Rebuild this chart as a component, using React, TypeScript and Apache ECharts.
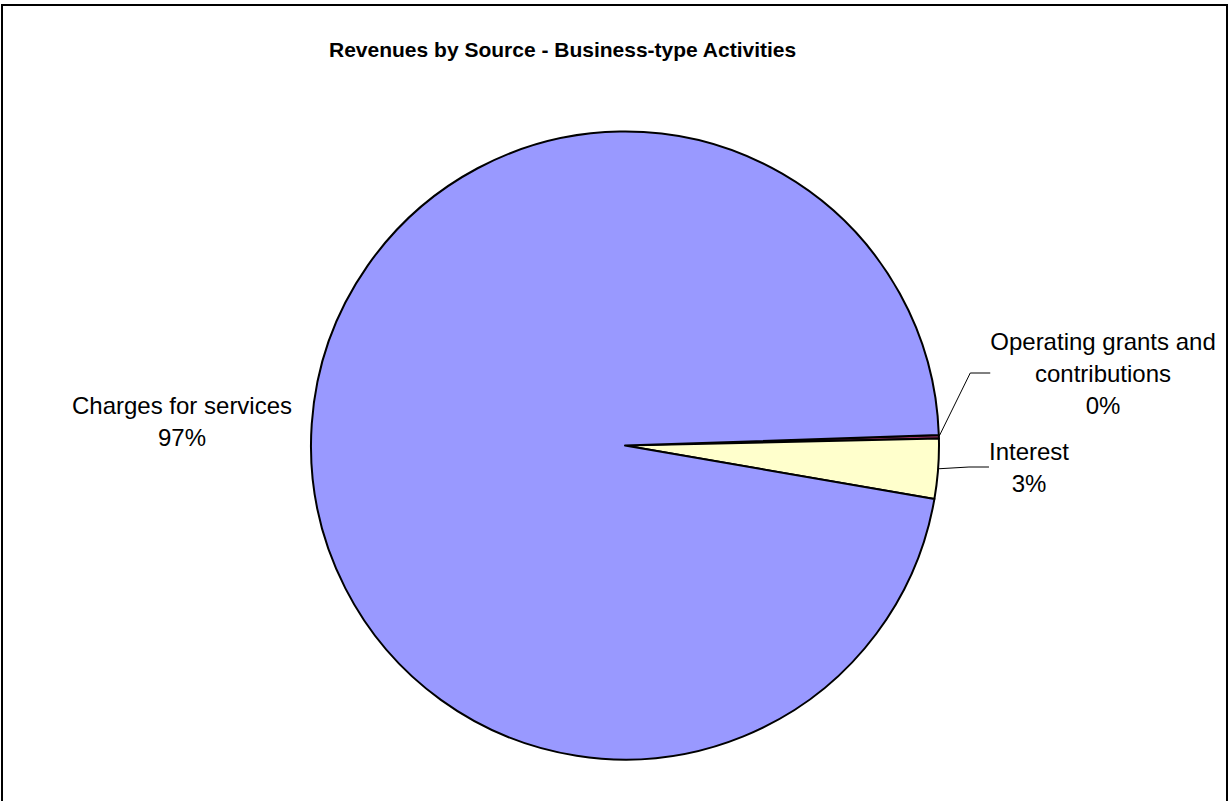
import React, { useEffect, useRef } from "react";
import * as echarts from "echarts";

const titleText = "Revenues by Source - Business-type Activities";
const categories = ["Operating grants and\ncontributions", "Interest", "Charges for services"];
const values = [0.17, 3.08, 96.75];
const colors = ["#993366", "#FFFFCC", "#9999FF"];

const FONT = "'Liberation Sans', Arial, sans-serif";

export default function App() {
  const ref = useRef<HTMLDivElement>(null);
  useEffect(() => {
    if (!ref.current) return;
    const chart = echarts.init(ref.current, null, { renderer: "svg" });
    const labelPos: Record<number, [number, number]> = {
      0: [1103, 373],
      1: [1029, 467],
      2: [182, 421],
    };
    chart.setOption({
      animation: false,
      backgroundColor: "#ffffff",
      title: {
        text: titleText,
        left: 324,
        top: 34,
        textStyle: { fontFamily: FONT, fontSize: 21, fontWeight: "bold", color: "#000" },
      },
      graphic: [
        {
          type: "rect",
          silent: true,
          z: -1,
          shape: { x: 2, y: 5, width: 1225, height: 900 },
          style: { fill: "none", stroke: "#000", lineWidth: 2 },
        },
      ],
      series: [
        {
          type: "pie",
          center: [625, 445.5],
          radius: 314,
          startAngle: 1.9,
          clockwise: true,
          avoidLabelOverlap: false,
          emphasis: { disabled: true },
          itemStyle: { borderColor: "#000", borderWidth: 2 },
          data: categories.map((name, i) => ({
            name,
            value: values[i],
            itemStyle: { color: colors[i] },
            labelLine: { show: i !== 2 },
          })),
          label: {
            show: true,
            position: "outside",
            formatter: (p: any) => `${p.name}\n${Math.round(p.percent)}%`,
            fontFamily: FONT,
            fontSize: 24,
            lineHeight: 32,
            color: "#000",
            align: "center",
          },
          labelLine: {
            show: true,
            length: 20,
            length2: 20,
            smooth: false,
            lineStyle: { color: "#000", width: 1 },
          },
          labelLayout: (p: any) => {
            const pos = labelPos[p.dataIndex];
            return { x: pos[0], y: pos[1], align: "center", verticalAlign: "middle" };
          },
        },
      ],
    });
    return () => chart.dispose();
  }, []);
  return (
    <div
      ref={ref}
      style={{ position: "absolute", left: 0, top: 0, width: 1229, height: 801, background: "#fff" }}
    />
  );
}
